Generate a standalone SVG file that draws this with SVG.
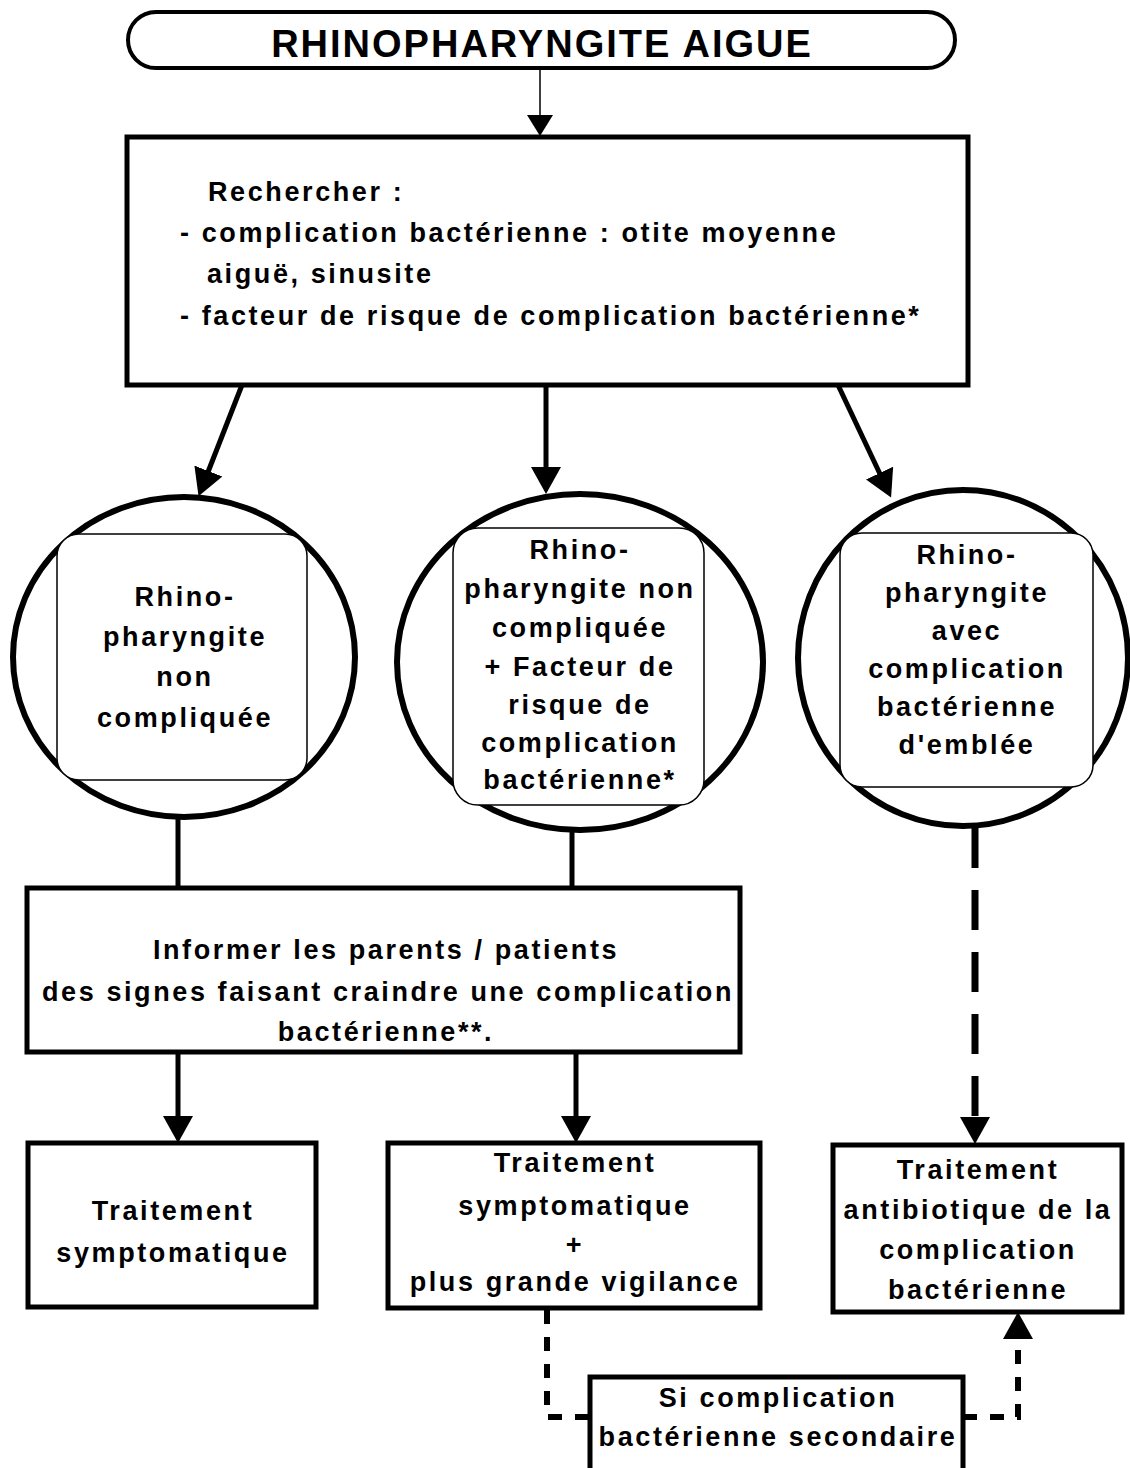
<svg xmlns="http://www.w3.org/2000/svg" width="1130" height="1468" viewBox="0 0 1130 1468">
<defs>
<style>
text{font-family:"Liberation Sans",Arial,sans-serif;font-weight:bold;fill:#000;font-size:27px;letter-spacing:2.6px}
.c{text-anchor:middle}
.title{font-size:38px;letter-spacing:2px}
.box{fill:#fff;stroke:#000;stroke-width:5}
.circ{fill:#fff;stroke:#000;stroke-width:6}
.inner{fill:#fff;stroke:#000;stroke-width:1.5}
.ln{fill:none;stroke:#000;stroke-width:5}
.thin{fill:none;stroke:#000;stroke-width:1.5}
.dash{fill:none;stroke:#000;stroke-width:7;stroke-dasharray:40 22}
.dot{fill:none;stroke:#000;stroke-width:6;stroke-dasharray:14 13}
</style>
<marker id="ah" markerUnits="userSpaceOnUse" markerWidth="30" markerHeight="32" viewBox="0 -16 30 32" refX="1" refY="0" orient="auto">
<path d="M0,-15 L27,0 L0,15 z" fill="#000"/>
</marker>
<marker id="ahs" markerUnits="userSpaceOnUse" markerWidth="24" markerHeight="28" viewBox="0 -14 24 28" refX="1" refY="0" orient="auto">
<path d="M0,-13 L21,0 L0,13 z" fill="#000"/>
</marker>
</defs>
<rect width="1130" height="1468" fill="#fff"/>

<g id="connectors">
<line class="thin" x1="540" y1="66" x2="540" y2="116" marker-end="url(#ahs)"/>
<line class="ln" x1="242" y1="385" x2="208" y2="472" marker-end="url(#ah)"/>
<line class="ln" x1="546" y1="385" x2="546" y2="468" marker-end="url(#ah)"/>
<line class="ln" x1="838" y1="385" x2="880" y2="474" marker-end="url(#ah)"/>
<line class="ln" x1="178" y1="816" x2="178" y2="888"/>
<line class="ln" x1="572" y1="828" x2="572" y2="888"/>
<line class="ln" x1="178" y1="1052" x2="178" y2="1117" marker-end="url(#ah)"/>
<line class="ln" x1="576" y1="1052" x2="576" y2="1117" marker-end="url(#ah)"/>
<line class="dash" x1="975" y1="828" x2="975" y2="1118" marker-end="url(#ah)"/>
<path class="dot" d="M547,1310 V1417 H590"/>
<path class="dot" d="M963,1417 H1018 V1338" marker-end="url(#ah)"/>
</g>

<g id="n-title">
<rect x="128" y="12" width="827" height="56" rx="28" ry="28" fill="#fff" stroke="#000" stroke-width="4"/>
<text class="c title" x="542" y="57">RHINOPHARYNGITE AIGUE</text>
</g>

<g id="n-rechercher">
<rect class="box" x="127" y="137" width="841" height="248"/>
<text x="208" y="201">Rechercher :</text>
<text x="180" y="242">- complication bactérienne : otite moyenne</text>
<text x="207" y="283">aiguë, sinusite</text>
<text x="180" y="325">- facteur de risque de complication bactérienne*</text>
</g>

<g id="n-non-compliquee">
<ellipse class="circ" cx="184" cy="657" rx="171" ry="160"/>
<rect class="inner" x="57" y="534" width="250" height="246" rx="22" ry="22"/>
<text class="c" x="185" y="606">Rhino-</text>
<text class="c" x="185" y="646">pharyngite</text>
<text class="c" x="185" y="686">non</text>
<text class="c" x="185" y="727">compliquée</text>
</g>

<g id="n-facteur-risque">
<ellipse class="circ" cx="580" cy="662" rx="183" ry="168"/>
<rect class="inner" x="453" y="528" width="251" height="277" rx="25" ry="25"/>
<text class="c" x="580" y="559">Rhino-</text>
<text class="c" x="580" y="598">pharyngite non</text>
<text class="c" x="580" y="637">compliquée</text>
<text class="c" x="580" y="676">+ Facteur de</text>
<text class="c" x="580" y="714">risque de</text>
<text class="c" x="580" y="752">complication</text>
<text class="c" x="580" y="789">bactérienne*</text>
</g>

<g id="n-avec-complication">
<ellipse class="circ" cx="963" cy="658" rx="165" ry="168"/>
<rect class="inner" x="840" y="533" width="253" height="254" rx="22" ry="22"/>
<text class="c" x="967" y="564">Rhino-</text>
<text class="c" x="967" y="602">pharyngite</text>
<text class="c" x="967" y="640">avec</text>
<text class="c" x="967" y="678">complication</text>
<text class="c" x="967" y="716">bactérienne</text>
<text class="c" x="967" y="754">d'emblée</text>
</g>

<g id="n-informer">
<rect class="box" x="27" y="888" width="713" height="164"/>
<text class="c" x="386" y="959">Informer les parents / patients</text>
<text class="c" x="388" y="1001">des signes faisant craindre une complication</text>
<text class="c" x="386" y="1041">bactérienne**.</text>
</g>

<g id="n-trait-sympto">
<rect class="box" x="28" y="1143" width="288" height="164"/>
<text class="c" x="173" y="1220">Traitement</text>
<text class="c" x="173" y="1262">symptomatique</text>
</g>

<g id="n-trait-vigilance">
<rect class="box" x="388" y="1143" width="372" height="165"/>
<text class="c" x="575" y="1172">Traitement</text>
<text class="c" x="575" y="1215">symptomatique</text>
<text class="c" x="575" y="1254">+</text>
<text class="c" x="575" y="1291">plus grande vigilance</text>
</g>

<g id="n-trait-antibio">
<rect class="box" x="833" y="1145" width="289" height="167"/>
<text class="c" x="978" y="1179">Traitement</text>
<text class="c" x="978" y="1219">antibiotique de la</text>
<text class="c" x="978" y="1259">complication</text>
<text class="c" x="978" y="1299">bactérienne</text>
</g>

<g id="n-si-complication">
<rect class="box" x="590" y="1377" width="373" height="98"/>
<text class="c" x="778" y="1407">Si complication</text>
<text class="c" x="778" y="1446">bactérienne secondaire</text>
</g>
</svg>
